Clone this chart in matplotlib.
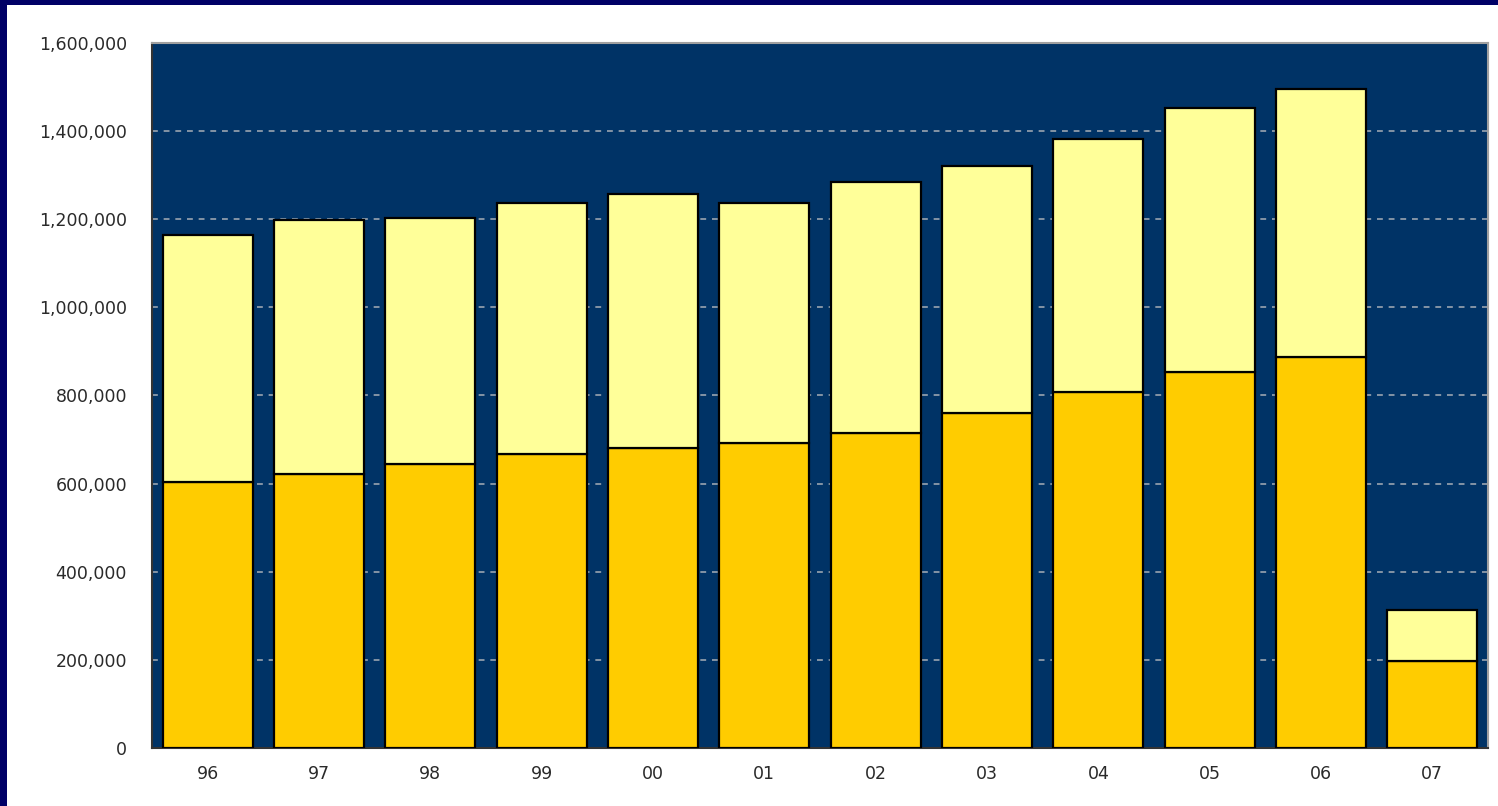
import numpy as np
import matplotlib.pyplot as plt
from matplotlib.patches import Rectangle
from matplotlib.ticker import FuncFormatter

# ------------------------------------------------------------
# Data
# ------------------------------------------------------------
years = ["96", "97", "98", "99", "00", "01", "02", "03", "04", "05", "06", "07"]
lower = [604000, 623000, 645000, 667000, 682000, 693000, 716000, 761000,
         809000, 853000, 887000, 198000]
total = [1165000, 1198000, 1202000, 1236000, 1258000, 1236000, 1285000,
         1321000, 1381000, 1452000, 1495000, 314000]
upper = [t - l for t, l in zip(total, lower)]
y_ticks = [0, 200000, 400000, 600000, 800000, 1000000, 1200000, 1400000, 1600000]

# ------------------------------------------------------------
# Figure
# ------------------------------------------------------------
fig = plt.figure(figsize=(14.98, 8.06), dpi=100)
fig.patch.set_facecolor("white")

# navy frame on the left and top edges
fig.patches.append(Rectangle((0, 0), 7 / 1498, 1, transform=fig.transFigure,
                             facecolor="#000066", edgecolor="none", zorder=0))
fig.patches.append(Rectangle((0, 1 - 5 / 806), 1, 5 / 806, transform=fig.transFigure,
                             facecolor="#000066", edgecolor="none", zorder=0))

ax = fig.add_axes([152 / 1498, 57.7 / 806, 1336 / 1498, 705.6 / 806])
ax.set_facecolor("#003366")

x = np.arange(len(years))
ax.bar(x, lower, width=0.81, color="#FFCC00", edgecolor="black", linewidth=1.6, zorder=3)
ax.bar(x, upper, bottom=lower, width=0.81, color="#FFFF99", edgecolor="black",
       linewidth=1.6, zorder=3)

ax.set_xlim(-0.5, len(years) - 0.5)
ax.set_ylim(0, 1600000)
ax.set_yticks(y_ticks)
ax.yaxis.set_major_formatter(FuncFormatter(lambda v, p: f"{int(v):,}"))
ax.set_xticks(x)
ax.set_xticklabels(years)

ax.yaxis.grid(True, color="#9AA4B0", linestyle=(0, (3.5, 3.5)), linewidth=1.2, zorder=1)
ax.set_axisbelow(True)

ax.tick_params(axis="both", length=0, labelsize=12.5, colors="#2a2a2a")
ax.tick_params(axis="y", pad=18)
ax.tick_params(axis="x", pad=12)

for side in ["left", "bottom"]:
    ax.spines[side].set_color("#333333")
    ax.spines[side].set_linewidth(1.5)
for side in ["top", "right"]:
    ax.spines[side].set_color("#A0A0A0")
    ax.spines[side].set_linewidth(1.5)

fig.savefig("out.png", dpi=100, facecolor=fig.get_facecolor())
